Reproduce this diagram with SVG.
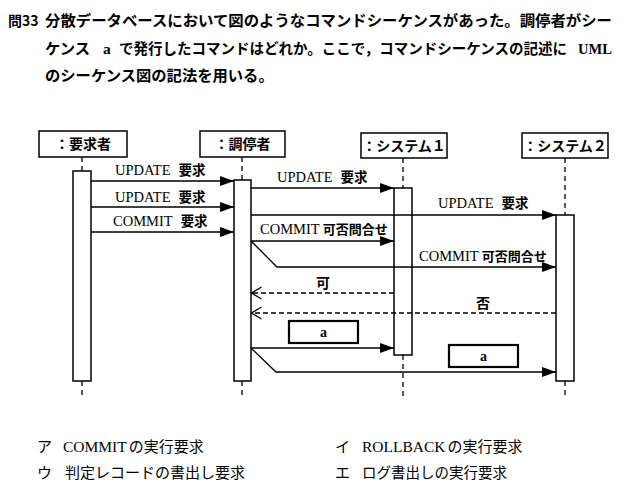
<svg xmlns="http://www.w3.org/2000/svg" width="624" height="504" viewBox="0 0 624 504">
<style>
.jp { font-family: "Noto Sans CJK JP", "Noto Sans", sans-serif; }
.b { font-weight: bold; }
.lat { font-family: "Liberation Serif", serif; }
.box { fill: #fff; stroke: #000; stroke-width: 1.5; }
.abox { fill: #fff; stroke: #000; stroke-width: 2.2; }
.bar { fill: #fff; stroke: #000; stroke-width: 1.5; }
.life { stroke: #000; stroke-width: 1.3; stroke-dasharray: 5 4; fill: none; }
.msg { stroke: #000; stroke-width: 1.3; fill: none; marker-end: url(#fill); }
.ret { stroke: #000; stroke-width: 1.3; fill: none; stroke-dasharray: 5 3; marker-end: url(#open); }
text { fill: #000; }
</style>
<defs>
<marker id="fill" markerUnits="userSpaceOnUse" markerWidth="15" markerHeight="11" refX="14" refY="5" orient="auto">
<path d="M0,0 L14,5 L0,10 z" fill="#000"/>
</marker>
<marker id="open" markerUnits="userSpaceOnUse" markerWidth="12" markerHeight="14" refX="10.5" refY="6.5" orient="auto">
<path d="M0.5,0.5 L10.5,6.5 L0.5,12.5" fill="none" stroke="#000" stroke-width="1.3"/>
</marker>
</defs>
<rect width="624" height="504" fill="#fff"/>

<g id="question">
<text x="8" y="26" class="jp b" font-size="14">問33</text>
<text x="45" y="26" class="jp b" font-size="15.3" textLength="567" lengthAdjust="spacingAndGlyphs">分散データベースにおいて図のようなコマンドシーケンスがあった。調停者がシー</text>
<text x="45" y="54" class="jp b" font-size="15.3">ケンス</text>
<text x="103" y="54" class="lat b" font-size="15.5">a</text>
<text x="119" y="54" class="jp b" font-size="14.5">で発行したコマンドはどれか。ここで，コマンドシーケンスの記述に</text>
<text x="578" y="54" class="lat b" font-size="14.5">UML</text>
<text x="45" y="81" class="jp b" font-size="15.3">のシーケンス図の記法を用いる。</text>
</g>

<g id="requester">
<rect class="box" x="39" y="131" width="88" height="26"/>
<text x="83" y="149" class="jp b" font-size="14" text-anchor="middle">：要求者</text>
<line class="life" x1="82" y1="157" x2="82" y2="171"/>
<rect class="bar" x="73" y="171" width="18" height="210"/>
<line class="life" x1="82" y1="381" x2="82" y2="398"/>
</g>

<g id="coordinator">
<rect class="box" x="200" y="131" width="85" height="26"/>
<text x="242.5" y="149" class="jp b" font-size="14" text-anchor="middle">：調停者</text>
<line class="life" x1="242" y1="157" x2="242" y2="180"/>
<rect class="bar" x="234" y="180" width="17" height="201"/>
<line class="life" x1="242" y1="381" x2="242" y2="398"/>
</g>

<g id="system1">
<rect class="box" x="361" y="133" width="86" height="25"/>
<text x="404" y="151" class="jp b" font-size="14" text-anchor="middle">：システム１</text>
<line class="life" x1="403" y1="158" x2="403" y2="188"/>
<rect class="bar" x="394" y="188" width="18" height="167"/>
<line class="life" x1="403" y1="355" x2="403" y2="398"/>
</g>

<g id="system2">
<rect class="box" x="522" y="133" width="86" height="25"/>
<text x="565" y="151" class="jp b" font-size="14" text-anchor="middle">：システム２</text>
<line class="life" x1="565" y1="158" x2="565" y2="215"/>
<rect class="bar" x="556" y="215" width="18" height="166"/>
<line class="life" x1="565" y1="381" x2="565" y2="398"/>
</g>

<g id="connectors">
<path class="msg" d="M91,181 H234"/>
<path class="msg" d="M91,207 H234"/>
<path class="msg" d="M91,232 H234"/>
<path class="msg" d="M251,188 H394"/>
<path class="msg" d="M251,215 H556"/>
<path class="msg" d="M251,241 H394"/>
<path class="msg" d="M251,241 L277,267 H556"/>
<path class="ret" d="M394,293 H251.5"/>
<path class="ret" d="M556,313 H251.5"/>
<path class="msg" d="M251,348 H394"/>
<path class="msg" d="M251,348 L276,372 H556"/>
</g>

<g id="labels">
<text x="115" y="175" font-size="14.5"><tspan class="lat">UPDATE</tspan><tspan class="jp b" dx="8" font-size="13.5">要求</tspan></text>
<text x="115" y="202" font-size="14.5"><tspan class="lat">UPDATE</tspan><tspan class="jp b" dx="8" font-size="13.5">要求</tspan></text>
<text x="113" y="226" font-size="14.5"><tspan class="lat">COMMIT</tspan><tspan class="jp b" dx="8" font-size="13.5">要求</tspan></text>
<text x="277" y="182" font-size="14.5"><tspan class="lat">UPDATE</tspan><tspan class="jp b" dx="8" font-size="13.5">要求</tspan></text>
<text x="438" y="208" font-size="14.5"><tspan class="lat">UPDATE</tspan><tspan class="jp b" dx="8" font-size="13.5">要求</tspan></text>
<text x="260" y="234" font-size="14.5"><tspan class="lat">COMMIT</tspan><tspan class="jp b" dx="3" font-size="13">可否問合せ</tspan></text>
<text x="419" y="261" font-size="14.5"><tspan class="lat">COMMIT</tspan><tspan class="jp b" dx="3" font-size="13">可否問合せ</tspan></text>
<text x="323" y="288" class="jp b" font-size="14" text-anchor="middle">可</text>
<text x="483" y="308" class="jp b" font-size="14" text-anchor="middle">否</text>
</g>

<g id="seqA1">
<rect class="abox" x="289" y="321" width="69" height="22"/>
<text x="323.5" y="337" class="lat b" font-size="14" text-anchor="middle">a</text>
</g>
<g id="seqA2">
<rect class="abox" x="449" y="345" width="69" height="22"/>
<text x="483.5" y="361" class="lat b" font-size="14" text-anchor="middle">a</text>
</g>

<g id="choices">
<text x="37" y="452" class="jp" font-size="15">ア</text>
<text x="63" y="452" font-size="15"><tspan class="lat" font-size="15.5">COMMIT</tspan><tspan class="jp" dx="2">の実行要求</tspan></text>
<text x="335" y="452" class="jp" font-size="15">イ</text>
<text x="362" y="452" font-size="15"><tspan class="lat" font-size="15.5">ROLLBACK</tspan><tspan class="jp" dx="2">の実行要求</tspan></text>
<text x="37" y="478" class="jp" font-size="15">ウ</text>
<text x="65" y="478" class="jp" font-size="15">判定レコードの書出し要求</text>
<text x="335" y="478" class="jp" font-size="15">エ</text>
<text x="362" y="478" class="jp" font-size="14.5">ログ書出しの実行要求</text>
</g>
</svg>
